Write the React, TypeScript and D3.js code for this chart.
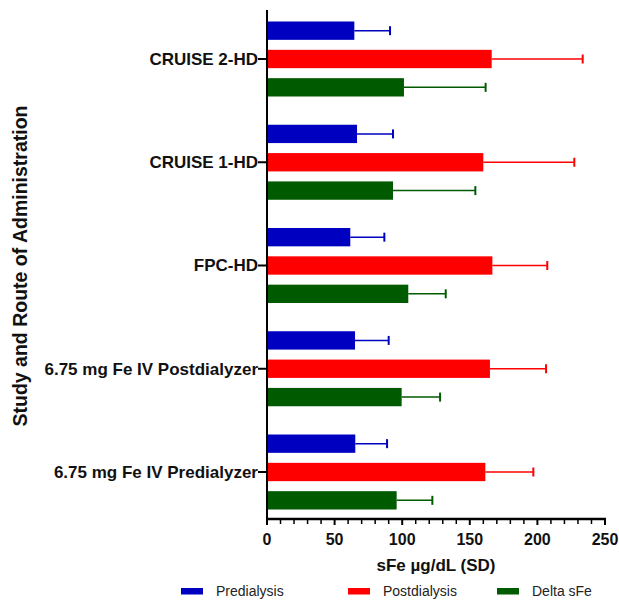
import React from "react";
import * as d3 from "d3";

const categories = [
  "CRUISE 2-HD",
  "CRUISE 1-HD",
  "FPC-HD",
  "6.75 mg Fe IV Postdialyzer",
  "6.75 mg Fe IV Predialyzer",
];
const seriesNames = ["Predialysis", "Postdialysis", "Delta sFe"];
const seriesColors = ["#0000c0", "#ff0000", "#005a00"];
const predialysis = [64.6, 66.6, 61.6, 65.1, 65.3];
const predialysisSD = [26.4, 26.6, 25.2, 24.9, 23.5];
const postdialysis = [166.2, 160.0, 166.7, 164.9, 161.5];
const postdialysisSD = [67.3, 67.3, 40.6, 41.5, 35.5];
const deltaSFe = [101.3, 93.2, 104.5, 99.6, 95.9];
const deltaSFeSD = [60.4, 60.9, 27.7, 28.4, 26.4];
const xTicks = [0, 50, 100, 150, 200, 250];

const means = [predialysis, postdialysis, deltaSFe];
const sds = [predialysisSD, postdialysisSD, deltaSFeSD];

export default function App() {
  const W = 619, H = 600;
  const x0 = 267, x1 = 605, yTop = 10, yBot = 519;
  const x = d3.scaleLinear().domain([0, 250]).range([x0, x1]);
  const y = d3.scalePoint<string>().domain(categories).range([59, 472]);
  const inner = d3.scaleBand<number>().domain([0, 1, 2]).range([-37.5, 37.5]).paddingInner(0.353).paddingOuter(0);
  const bh = inner.bandwidth();
  const minor = d3.range(0, 251, 10).filter((v) => v % 50 !== 0);
  const font = "'Liberation Sans', Arial, sans-serif";

  return (
    <svg width={W} height={H} style={{ position: "absolute", left: 0, top: 0 }} fontFamily={font}>
      <rect width={W} height={H} fill="#fff" />
      {/* bars */}
      {categories.map((c, i) => (
        <g key={c}>
          {means.map((m, s) => {
            const yc = (y(c) as number) + (inner(s) as number);
            const cy = yc + bh / 2;
            const xe = x(m[i] + sds[s][i]);
            return (
              <g key={s}>
                <line x1={x(m[i])} x2={xe} y1={cy} y2={cy} stroke={seriesColors[s]} strokeWidth={1.5} />
                <line x1={xe} x2={xe} y1={cy - 4.5} y2={cy + 4.5} stroke={seriesColors[s]} strokeWidth={2} />
                <rect x={x(0)} y={yc} width={x(m[i]) - x(0)} height={bh} fill={seriesColors[s]} />
              </g>
            );
          })}
        </g>
      ))}
      {/* y axis */}
      <line x1={x0} x2={x0} y1={yTop} y2={yBot + 1} stroke="#000" strokeWidth={2} />
      {categories.map((c) => (
        <g key={c}>
          <line x1={x0 - 9} x2={x0} y1={y(c)} y2={y(c)} stroke="#000" strokeWidth={2} />
          <text x={x0 - 9} y={y(c)} dy="0.35em" textAnchor="end" fontSize={17} fontWeight="bold" fill="#111">
            {c}
          </text>
        </g>
      ))}
      {/* x axis */}
      <line x1={x0 - 1} x2={x1 + 1} y1={yBot} y2={yBot} stroke="#000" strokeWidth={2.5} />
      {xTicks.map((t) => (
        <g key={t}>
          <line x1={x(t)} x2={x(t)} y1={yBot} y2={yBot + 6} stroke="#000" strokeWidth={2} />
          <text x={x(t)} y={539} dy="0.35em" textAnchor="middle" fontSize={16} fontWeight="bold" fill="#111">
            {t}
          </text>
        </g>
      ))}
      {minor.map((t) => (
        <line key={t} x1={x(t)} x2={x(t)} y1={yBot} y2={yBot + 5} stroke="#000" strokeWidth={1.5} />
      ))}
      <text x={(x0 + x1) / 2} y={565} dy="0.35em" textAnchor="middle" fontSize={17} fontWeight="bold" fill="#111">
        sFe µg/dL (SD)
      </text>
      <text
        transform={`translate(20,266) rotate(-90)`}
        dy="0.35em"
        textAnchor="middle"
        fontSize={19.5}
        fontWeight="bold"
        fill="#111"
      >
        Study and Route of Administration
      </text>
      {/* legend */}
      {seriesNames.map((n, s) => {
        const lx = [181, 348, 497][s];
        return (
          <g key={n}>
            <rect x={lx} y={588} width={22} height={6.5} fill={seriesColors[s]} />
            <text x={lx + 35} y={591} dy="0.35em" fontSize={14} fill="#222">
              {n}
            </text>
          </g>
        );
      })}
    </svg>
  );
}
